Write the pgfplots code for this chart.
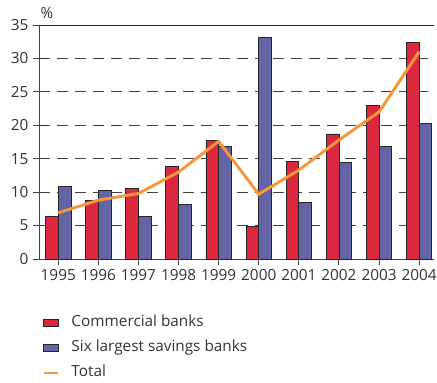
\documentclass[border=0pt]{standalone}
\usepackage{pgfplots}
\pgfplotsset{compat=1.18}
\usepackage{fontspec}
\setmainfont{Open Sans}
\definecolor{cred}{RGB}{220,40,62}
\definecolor{cblue}{RGB}{99,100,165}
\definecolor{corange}{RGB}{247,150,60}
\definecolor{ctext}{RGB}{51,51,51}
\begin{document}
\begin{tikzpicture}
\useasboundingbox (0pt,0pt) rectangle (327.75pt,287.25pt);
\begin{axis}[
  at={(29.25pt,93pt)}, anchor=south west,
  scale only axis, width=296.25pt, height=175.5pt,
  xmin=-0.48, xmax=9.37, ymin=0, ymax=35,
  axis x line*=bottom, axis y line*=left,
  axis line style={black!75, line width=0.7pt},
  xtick={0,...,9},
  xticklabels={1995,1996,1997,1998,1999,2000,2001,2002,2003,2004},
  ytick={0,5,...,35},
  tick align=outside, major tick length=4.5pt,
  tick style={black!75, line width=0.7pt},
  ymajorgrids, grid style={black!75, line width=0.7pt, dash pattern=on 8.5pt off 5pt},
  ticklabel style={font=\fontsize{11.5}{13}\selectfont, text=ctext},
  /pgf/number format/assume math mode=true,
  ybar=0pt, bar width=9.5pt,
  legend style={at={(0.008,-0.24)}, anchor=north west, draw=none, fill=none,
    font=\fontsize{11.5}{13}\selectfont, text=ctext, row sep=7.75pt,
    inner sep=0pt,
    nodes={inner sep=0pt, text height=8.5pt, text depth=2.5pt},
    /tikz/every odd column/.append style={column sep=9pt}},
  legend cell align=left,
  clip=false,
]
\addplot[fill=cred, draw=black!85, line width=0.6pt,
  legend image code/.code={\draw[fill=cred, draw=black!85, line width=0.6pt] (0pt,-2.8pt) rectangle (11pt,2.8pt);}]
  coordinates {(0,6.3) (1,8.7) (2,10.5) (3,13.9) (4,17.7) (5,4.9) (6,14.6) (7,18.7) (8,23.0) (9,32.4)};
\addlegendentry{Commercial banks}
\addplot[fill=cblue, draw=black!85, line width=0.6pt,
  legend image code/.code={\draw[fill=cblue, draw=black!85, line width=0.6pt] (0pt,-2.8pt) rectangle (11pt,2.8pt);}]
  coordinates {(0,10.9) (1,10.3) (2,6.3) (3,8.1) (4,16.8) (5,33.2) (6,8.5) (7,14.5) (8,16.9) (9,20.3)};
\addlegendentry{Six largest savings banks}
\addplot[sharp plot, corange, line width=2.2pt, mark=none,
  legend image code/.code={\draw[corange, line width=1.8pt] (0pt,0pt) -- (11pt,0pt);}]
  coordinates {(0,6.9) (1,8.8) (2,9.8) (3,13.0) (4,17.6) (5,9.7) (6,13.3) (7,17.8) (8,22.0) (9,31.0)};
\addlegendentry{Total}
\draw[black!85, line width=0.7pt] (rel axis cs:0,1) -- (rel axis cs:1,1);
\node[anchor=base, font=\fontsize{11.5}{13}\selectfont, text=ctext] at ([xshift=6pt,yshift=5.25pt]rel axis cs:0,1) {\%};
\end{axis}
\end{tikzpicture}
\end{document}
